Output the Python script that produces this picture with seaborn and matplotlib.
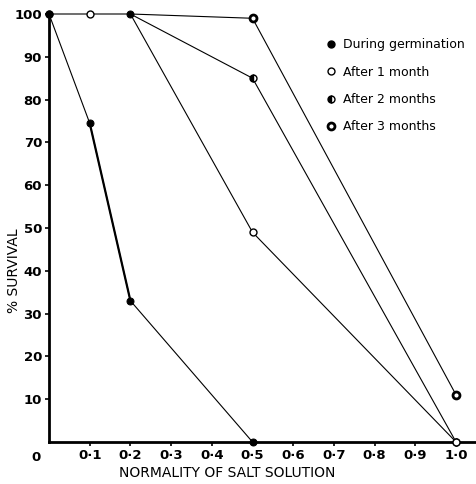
import numpy as np
import pandas as pd
import matplotlib
matplotlib.use("Agg")
import matplotlib.pyplot as plt
import seaborn as sns
from matplotlib.lines import Line2D

# data
germ_x = [0.0, 0.1, 0.2, 0.5]
germ_y = [100, 74.5, 33, 0]
m1_x = [0.0, 0.1, 0.2, 0.5, 1.0]
m1_y = [100, 100, 100, 49, 0]
m2_x = [0.2, 0.5, 1.0]
m2_y = [100, 85, 0]
m3_x = [0.2, 0.5, 1.0]
m3_y = [100, 99, 11]

labels = ["During germination", "After 1 month", "After 2 months", "After 3 months"]
xticks = [0.1, 0.2, 0.3, 0.4, 0.5, 0.6, 0.7, 0.8, 0.9, 1.0]
xticklabels = ["0·1", "0·2", "0·3", "0·4", "0·5", "0·6", "0·7", "0·8", "0·9", "1·0"]
yticks = [10, 20, 30, 40, 50, 60, 70, 80, 90, 100]

sns.set_style("ticks", {"axes.edgecolor": "black", "text.color": "black",
                        "xtick.color": "black", "ytick.color": "black",
                        "axes.labelcolor": "black"})
plt.rcParams["font.family"] = ["DejaVu Sans"]

fig = plt.figure(figsize=(4.76, 4.84), dpi=100)
ax = fig.add_axes([49/476, 1 - 442/484, 427/476, 428/484])

styles = [
    dict(marker="o", markersize=5, markerfacecolor="black", markeredgecolor="black"),
    dict(marker="o", markersize=5, markerfacecolor="white", markeredgecolor="black", markeredgewidth=1.0),
    dict(marker="o", markersize=5, fillstyle="left", markerfacecolor="black",
         markerfacecoloralt="white", markeredgecolor="black", markeredgewidth=1.0),
    dict(marker="o", markersize=5, markerfacecolor="white", markeredgecolor="black", markeredgewidth=2.0),
]
series = [(germ_x, germ_y), (m1_x, m1_y), (m2_x, m2_y), (m3_x, m3_y)]
# the shared 0.2 point is drawn once, as a solid dot
marks = [None, [0, 1, 3, 4], [1, 2], [1, 2]]

for (xs, ys), st, mk in reversed(list(zip(series, styles, marks))):
    sns.lineplot(x=xs, y=ys, ax=ax, color="black", linewidth=0.8,
                 clip_on=False, zorder=3, markevery=mk, **st)
sns.lineplot(x=m2_x[:1], y=m2_y[:1], ax=ax, color="black", linestyle="none",
             clip_on=False, zorder=5, **styles[0])
# heavier segment between 0.1 and 0.2 for germination
sns.lineplot(x=germ_x[1:3], y=germ_y[1:3], ax=ax, color="black", linewidth=1.6, zorder=4)

ax.set_xlim(0, 1.049)
ax.set_ylim(0, 100)
ax.set_xticks(xticks)
ax.set_xticklabels(xticklabels)
ax.set_yticks(yticks)
ax.tick_params(axis="both", direction="out", length=3, width=1.2, labelsize=9.5, pad=2,
               colors="black")
for lab in ax.get_xticklabels() + ax.get_yticklabels():
    lab.set_fontweight("bold")

for s in ["top", "right"]:
    ax.spines[s].set_visible(False)
for s in ["left", "bottom"]:
    ax.spines[s].set_linewidth(2.0)
    ax.spines[s].set_color("black")

ax.text(-0.02, -0.02, "0", transform=ax.transAxes, ha="right", va="top",
        fontsize=9.5, fontweight="bold")

ax.set_xlabel("NORMALITY OF SALT SOLUTION", fontsize=10)
ax.xaxis.set_label_coords(0.417, -0.055)
ax.set_ylabel("% SURVIVAL", fontsize=10)
ax.yaxis.set_label_coords(-0.065, 0.40)

handles = [Line2D([], [], linestyle="none", color="black", **st) for st in styles]
ax.legend(handles, labels, loc="upper left", frameon=False, fontsize=9,
          bbox_to_anchor=(318/476, 1 - 32/484), bbox_transform=fig.transFigure,
          handlelength=1.0, handletextpad=0.5, labelspacing=1.15, borderpad=0)

fig.savefig("out.png", dpi=100)
